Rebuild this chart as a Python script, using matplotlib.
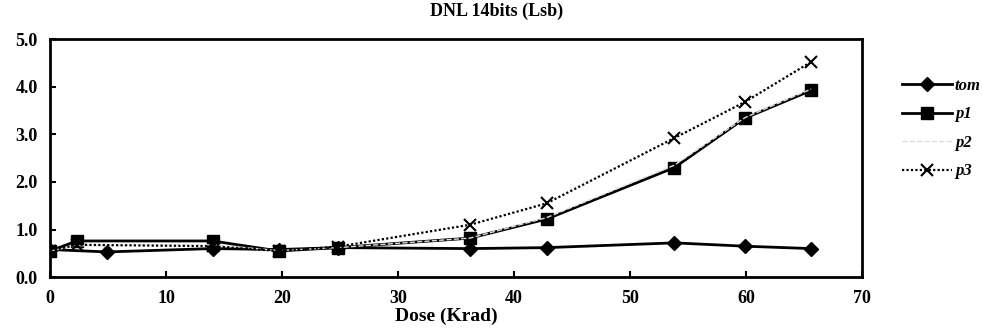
import matplotlib
matplotlib.use("Agg")
import matplotlib.pyplot as plt

# dose points (Krad) and DNL values
dose_tom = [0, 4.9, 14, 19.7, 24.8, 36.2, 42.8, 53.8, 59.9, 65.6]
dnl_tom = [0.58, 0.53, 0.60, 0.58, 0.62, 0.60, 0.62, 0.72, 0.65, 0.60]

dose_p1 = [0, 2.3, 14, 19.7, 24.8, 36.2, 42.8, 53.8, 59.9, 65.6]
dnl_p1 = [0.55, 0.76, 0.76, 0.55, 0.62, 0.82, 1.22, 2.30, 3.34, 3.92]

dose_p2 = [0, 2.3, 14, 19.7, 24.8, 36.2, 42.8, 53.8, 59.9, 65.6]
dnl_p2 = [0.55, 0.66, 0.68, 0.56, 0.62, 0.82, 1.25, 2.35, 3.35, 3.95]

dose_p3 = [0, 2.3, 14, 19.7, 24.8, 36.2, 42.8, 53.8, 59.9, 65.6]
dnl_p3 = [0.55, 0.68, 0.65, 0.55, 0.64, 1.10, 1.55, 2.92, 3.68, 4.52]

xticks = [0, 10, 20, 30, 40, 50, 60, 70]
yticks = [0, 1, 2, 3, 4, 5]

plt.rcParams['font.family'] = ['Liberation Serif', 'DejaVu Serif']
plt.rcParams['font.weight'] = 'bold'

fig = plt.figure(figsize=(9.82, 3.28), dpi=100)
ax = fig.add_axes([0.051, 0.155, 0.827, 0.726])

ax.plot(dose_tom, dnl_tom, color='black', lw=2, marker='D', ms=7, label='tom')
ax.plot(dose_p1, dnl_p1, color='black', lw=2, marker='s', ms=8, label='p1')
ax.plot(dose_p2, dnl_p2, color='#dddddd', lw=1, ls='--', label='p2')
ax.plot(dose_p3, dnl_p3, color='black', lw=1.6, ls=(0, (1, 1)), marker='x',
        ms=8, mew=1.5, label='p3')

ax.set_xlim(0, 70)
ax.set_ylim(0, 5)
ax.set_xticks(xticks)
ax.set_yticks(yticks)
ax.set_xticklabels([str(t) for t in xticks], fontsize=13, fontweight='bold')
ax.set_yticklabels([f"{t:.1f}" for t in yticks], fontsize=13, fontweight='bold')
ax.tick_params(direction='in', length=4, width=1.5, pad=9)
for s in ax.spines.values():
    s.set_linewidth(2)

fig.text(0.506, 0.965, 'DNL 14bits (Lsb)', ha='center', va='center',
         fontsize=13, fontweight='bold')
fig.text(0.455, 0.035, 'Dose (Krad)', ha='center', va='center',
         fontsize=14, fontweight='bold')

leg = ax.legend(loc='upper left', bbox_to_anchor=(1.03, 0.90), frameon=False,
                prop={'style': 'italic', 'weight': 'bold', 'size': 12},
                handlelength=3, labelspacing=0.75, handletextpad=0.2)

plt.savefig("out.png", dpi=100)
